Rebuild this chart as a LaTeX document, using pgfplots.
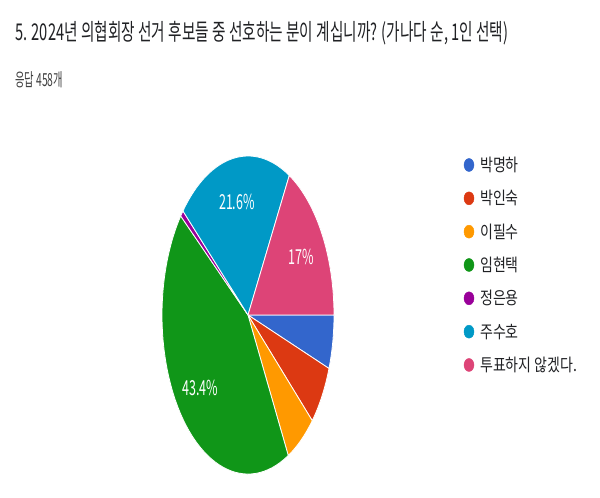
\documentclass[border=0pt]{standalone}
\usepackage{pgfplots}
\pgfplotsset{compat=1.18}
\usepackage{pgfplotstable}
\usepackage{graphicx}
\usepackage{fontspec}
\setmainfont{Noto Sans CJK KR}

\definecolor{gBlue}{HTML}{3366CC}
\definecolor{gRed}{HTML}{DC3912}
\definecolor{gOrange}{HTML}{FF9900}
\definecolor{gGreen}{HTML}{109618}
\definecolor{gPurple}{HTML}{990099}
\definecolor{gCyan}{HTML}{0099C6}
\definecolor{gPink}{HTML}{DD4477}
\definecolor{txt}{HTML}{202124}

% responses out of 458, in legend order
\pgfplotstableread[col sep=comma]{
name,count,col
박명하,25,gBlue
박인숙,28,gRed
이필수,26,gOrange
임현택,199,gGreen
정은용,3,gPurple
주수호,99,gCyan
투표하지 않겠다.,78,gPink
}\votes

\newcommand\pctlabel[1]{\scalebox{1}[1.65]{\fontsize{12.5}{14}\selectfont\pgfmathprintnumber[precision=1,assume math mode=true]{#1}\%}}
\newcommand\legtext[1]{\scalebox{1}[1.25]{\fontsize{14}{16}\selectfont #1}}

\begin{document}
\begin{tikzpicture}
\begin{axis}[
  scale only axis, width=600pt, height=488pt,
  xmin=0, xmax=600, ymin=0, ymax=488,
  hide axis, clip=false,
]
% keep the whole canvas as the page
\path (rel axis cs:0,0) rectangle (rel axis cs:1,1);
\pgfplotstablegetrowsof{\votes}
\pgfmathtruncatemacro{\nrows}{\pgfplotsretval-1}
\def\total{458}
\def\cx{248}\def\cy{173}\def\rx{86}\def\ry{159}
\def\angA{0}
\pgfplotsforeachungrouped \i in {0,...,\nrows} {
  \pgfplotstablegetelem{\i}{count}\of\votes \let\cnt\pgfplotsretval
  \pgfplotstablegetelem{\i}{col}\of\votes \let\col\pgfplotsretval
  \pgfplotstablegetelem{\i}{name}\of\votes \let\nm\pgfplotsretval
  \pgfmathsetmacro{\share}{\cnt/\total*100}
  \pgfmathsetmacro{\angB}{\angA-3.6*\share}
  \pgfmathsetmacro{\xA}{\cx+\rx*cos(\angA)}
  \pgfmathsetmacro{\yA}{\cy+\ry*sin(\angA)}
  \edef\cmd{\noexpand\fill[\col, draw=white, line width=0.8pt, line join=round]
    (axis cs:\cx,\cy) -- (axis cs:\xA,\yA)
    arc[start angle=\angA, end angle=\angB, x radius=\rx pt, y radius=\ry pt] -- cycle;}
  \cmd
  % percentage inside the larger slices
  \pgfmathsetmacro{\angM}{(\angA+\angB)/2}
  \pgfmathsetmacro{\xL}{\cx+0.72*\rx*cos(\angM)}
  \pgfmathsetmacro{\yL}{\cy+0.72*\ry*sin(\angM)}
  \ifdim\share pt>10pt
    \edef\cmd{\noexpand\node[text=white] at (axis cs:\xL,\yL) {\noexpand\pctlabel{\share}};}
    \cmd
  \fi
  % legend entry
  \pgfmathsetmacro{\yK}{323-33.33*\i}
  \edef\cmd{\noexpand\addplot[only marks, mark=*, mark size=5pt,
      mark options={yscale=1.3, fill=\col, draw=\col}] coordinates {(469,\yK)};
    \noexpand\node[anchor=west, text=txt, inner sep=0pt] at (axis cs:480,\yK) {\noexpand\legtext{\nm}};}
  \cmd
  \global\let\angA\angB
}
\node[anchor=west, inner sep=0pt, text=txt] at (axis cs:15,455)
  {\scalebox{1}[1.65]{\resizebox{493pt}{\height}{\fontsize{14}{16}\selectfont 5. 2024년 의협회장 선거 후보들 중 선호하는 분이 계십니까? (가나다 순, 1인 선택)}}};
\node[anchor=west, inner sep=0pt, text=black!75] at (axis cs:15,408)
  {\scalebox{1}[1.5]{\resizebox{48pt}{\height}{\fontsize{12}{14}\selectfont 응답 458개}}};
\end{axis}
\end{tikzpicture}
\end{document}
